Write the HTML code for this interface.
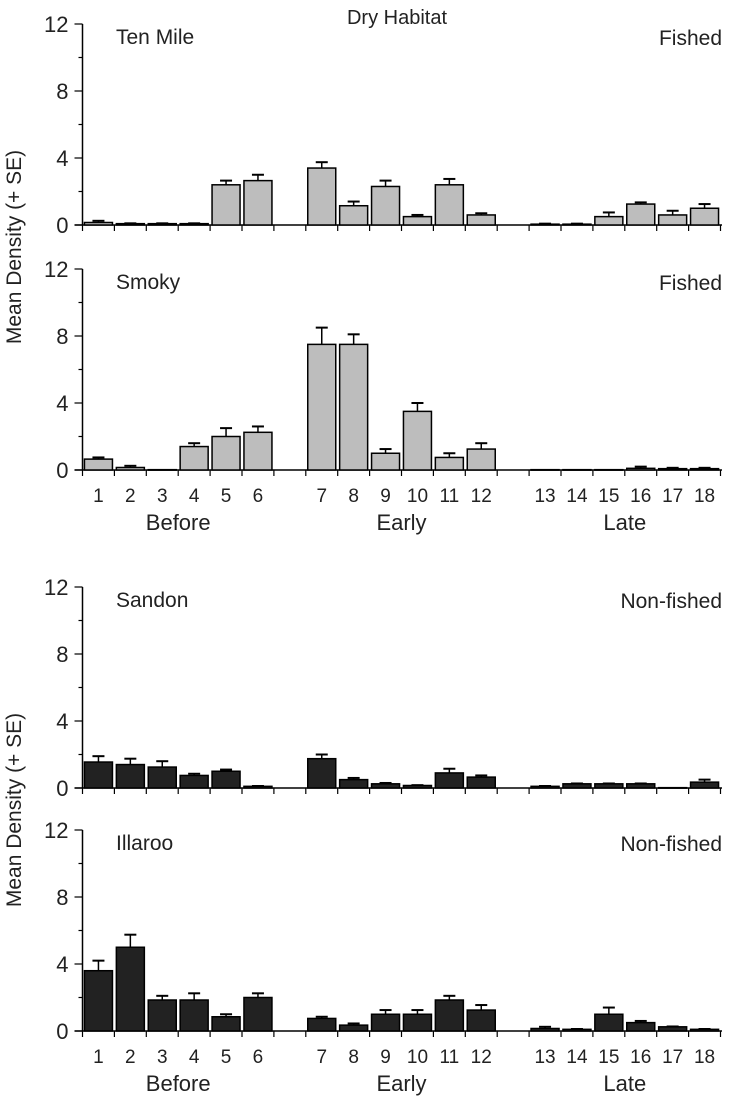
<!DOCTYPE html>
<html><head><meta charset="utf-8"><style>
body{margin:0;background:#fff}
svg text{font-family:"Liberation Sans",Arial,sans-serif;fill:#222}
</style></head><body>
<svg id="c" width="732" height="1106"></svg>
<script>
const categories=["1","2","3","4","5","6","7","8","9","10","11","12","13","14","15","16","17","18"];
const groups=["Before","Early","Late"];
const yTicks=[0,4,8,12];
const tenMile=[0.15,0.08,0.08,0.08,2.4,2.65,3.4,1.15,2.3,0.5,2.4,0.6,0.05,0.05,0.5,1.25,0.6,1.0];
const tenMileSE=[0.1,0.02,0.02,0.02,0.25,0.35,0.35,0.25,0.35,0.1,0.35,0.1,0.03,0.03,0.25,0.1,0.25,0.25];
const smoky=[0.65,0.15,0.02,1.4,2.0,2.25,7.5,7.5,1.0,3.5,0.75,1.25,0.02,0.02,0.02,0.1,0.08,0.08];
const smokySE=[0.1,0.1,0,0.2,0.5,0.35,1.0,0.6,0.25,0.5,0.25,0.35,0,0,0,0.1,0.05,0.05];
const sandon=[1.55,1.4,1.25,0.75,1.0,0.1,1.75,0.5,0.25,0.15,0.9,0.65,0.1,0.25,0.25,0.25,0.02,0.35];
const sandonSE=[0.35,0.35,0.35,0.1,0.1,0.02,0.25,0.1,0.05,0.02,0.25,0.1,0.02,0.02,0.02,0.02,0,0.15];
const illaroo=[3.6,5.0,1.85,1.85,0.85,2.0,0.75,0.35,1.0,1.0,1.85,1.25,0.15,0.1,1.0,0.5,0.25,0.1];
const illarooSE=[0.6,0.75,0.25,0.4,0.15,0.25,0.1,0.1,0.25,0.25,0.25,0.3,0.1,0.02,0.4,0.1,0.02,0.02];

const svg=document.getElementById('c');
const NS="http://www.w3.org/2000/svg";
function mk(tag,attrs,text){const e=document.createElementNS(NS,tag);for(const k in attrs)e.setAttribute(k,attrs[k]);if(text!==undefined)e.textContent=text;svg.appendChild(e);return e;}
const X0=82.5,SLOT=31.9,XEND=722;
function slotIndex(i){return i+Math.floor(i/6);}
function xCenter(i){return X0+SLOT*(slotIndex(i)+0.5);}
const panels=[
 {name:"Ten Mile",status:"Fished",vals:tenMile,se:tenMileSE,y0:225,fill:"#bdbdbd",key:"ten-mile"},
 {name:"Smoky",status:"Fished",vals:smoky,se:smokySE,y0:470,fill:"#bdbdbd",key:"smoky",xl:true},
 {name:"Sandon",status:"Non-fished",vals:sandon,se:sandonSE,y0:788,fill:"#222",key:"sandon"},
 {name:"Illaroo",status:"Non-fished",vals:illaroo,se:illarooSE,y0:1031,fill:"#222",key:"illaroo",xl:true}
];
const H=201;
panels.forEach(p=>{
 const y=v=>p.y0-v/12*H;
 let e;
 e=mk('line',{x1:X0,y1:y(12),x2:X0,y2:p.y0,stroke:'#000','stroke-width':1.5});
 
 
 e=mk('line',{x1:X0-8,y1:p.y0,x2:XEND,y2:p.y0,stroke:'#000','stroke-width':1.5});
 
 
 for(let v=0;v<=12;v+=2){
  const major=v%4===0;
  mk('line',{x1:X0-(major?8:4),y1:y(v),x2:X0,y2:y(v),stroke:'#000','stroke-width':1.2});
 }
 yTicks.forEach(v=>{
  e=mk('text',{x:X0-14,y:y(v)+8,'text-anchor':'end','font-size':22},String(v));
  
  
 });
 for(let k=0;k<=20;k++){
  const x=X0+SLOT*k; if(x>XEND+1)break;
  mk('line',{x1:x,y1:p.y0,x2:x,y2:p.y0+6,stroke:'#000','stroke-width':1.2});
 }
 p.vals.forEach((v,i)=>{
  const cx=xCenter(i),w=28;
  const top=y(v+p.se[i]);
  if(p.se[i]>0){
   e=mk('line',{x1:cx,y1:y(v),x2:cx,y2:top,stroke:'#000','stroke-width':1.5});
   
   
   mk('line',{x1:cx-6,y1:top,x2:cx+6,y2:top,stroke:'#000','stroke-width':2});
  }
  e=mk('rect',{x:cx-w/2,y:y(v),width:w,height:Math.max(p.y0-y(v),0.5),fill:p.fill,stroke:'#000','stroke-width':1.5});
  
  
 });
 e=mk('text',{x:116,y:y(12)+20,'font-size':21},p.name);
 
 
 e=mk('text',{x:722,y:y(12)+21,'text-anchor':'end','font-size':21},p.status);
 
 
 if(p.xl){
  categories.forEach((c,i)=>{
   e=mk('text',{x:xCenter(i),y:p.y0+32,'text-anchor':'middle','font-size':19},c);
   
   
  });
  groups.forEach((g,gi)=>{
   const cx=(xCenter(gi*6+2)+xCenter(gi*6+3))/2;
   e=mk('text',{x:cx,y:p.y0+60,'text-anchor':'middle','font-size':22},g);
   
   
  });
 }
});
let t;
t=mk('text',{x:397,y:24,'text-anchor':'middle','font-size':20},"Dry Habitat");


[247,810].forEach(cy=>{
 t=mk('text',{x:0,y:0,'text-anchor':'middle','font-size':21,transform:`translate(21,${cy}) rotate(-90)`},"Mean Density (+ SE)");
 
 
});
</script>
</body></html>
